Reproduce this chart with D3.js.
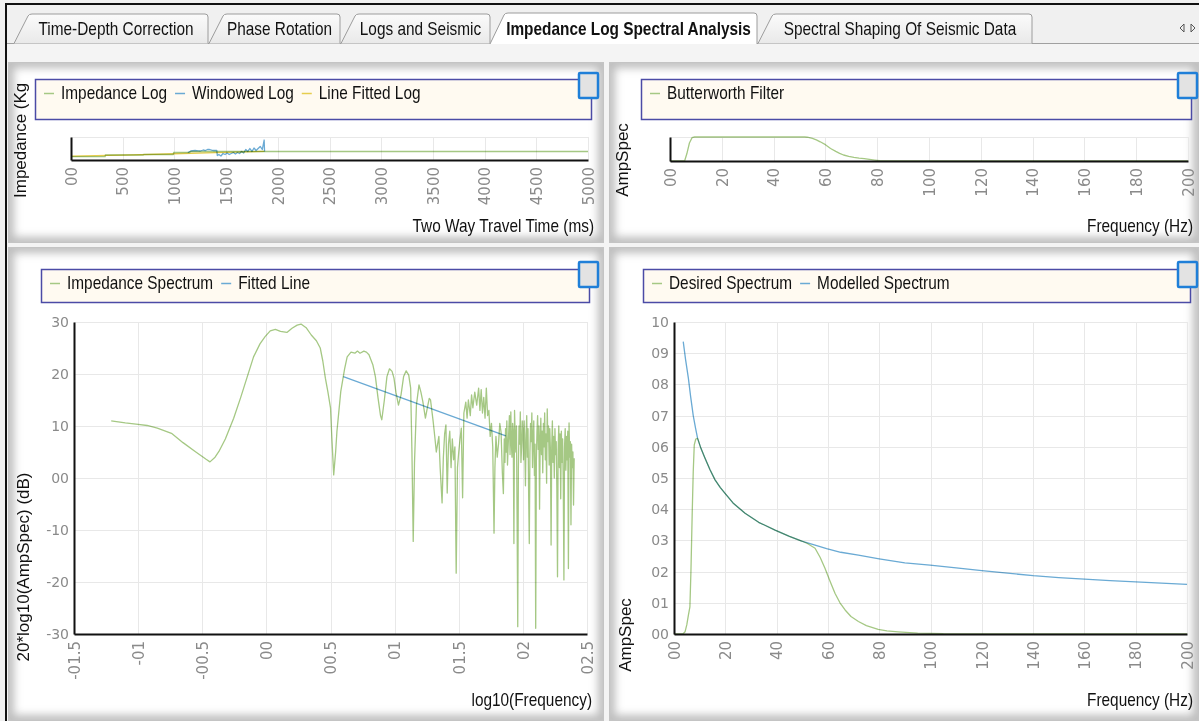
<!DOCTYPE html>
<html><head><meta charset="utf-8">
<script src="https://cdn.jsdelivr.net/npm/d3@7"></script>
<style>
body{margin:0;background:#fff;overflow:hidden}
svg{display:block}
</style></head><body>
<svg id="c" width="1199" height="721"></svg>
<script>
// ---------- tabs ----------
const tabLabels = ["Time-Depth Correction", "Phase Rotation", "Logs and Seismic",
  "Impedance Log Spectral Analysis", "Spectral Shaping Of Seismic Data"];
const activeTab = 3;

// ---------- impedance log vs two way time ----------
const timeTicks = [0, 500, 1000, 1500, 2000, 2500, 3000, 3500, 4000, 4500, 5000];
const timeTickLabels = ["00", "500", "1000", "1500", "2000", "2500", "3000", "3500", "4000", "4500", "5000"];
const impTime  = [0, 330, 332, 700, 702, 990, 992, 1150, 1152, 1870, 1872, 5000];
const impValue = [5200, 5200, 5740, 5740, 5910, 5910, 6610, 6610, 6960, 6960, 6960, 6960];
const winTime  = [1130, 1160, 1200, 1230, 1250, 1280, 1300, 1320, 1340, 1360, 1380, 1410, 1415, 1430, 1450,
  1470, 1490, 1510, 1530, 1550, 1570, 1590, 1610, 1630, 1650, 1670, 1690, 1710, 1730, 1750, 1770,
  1790, 1810, 1830, 1850, 1860, 1868, 1872];
const winValue = [6600, 7130, 7300, 7150, 7130, 7480, 7300, 7650, 7650, 7400, 7300, 7300, 5550, 5900, 5380,
  6260, 5900, 6430, 5900, 6260, 6600, 6080, 6600, 6260, 6960, 6430, 7650, 6960, 8000, 6960, 8170,
  7300, 8000, 8700, 7650, 9400, 10950, 6960];
const fitTime  = [0, 600, 1000, 1400, 1870];
const fitValue = [5350, 5800, 6180, 6550, 6980];

// ---------- butterworth filter ----------
const freqTicks = [0, 20, 40, 60, 80, 100, 120, 140, 160, 180, 200];
const freqTickLabels = ["00", "20", "40", "60", "80", "100", "120", "140", "160", "180", "200"];
const bwFreq = [0, 5, 5.7, 6.5, 7.5, 8.5, 9.5, 52, 53, 55, 56.5, 58, 60, 62, 64, 65.5, 67, 69, 71, 73, 75, 77, 79, 81, 83, 200];
const bwAmp  = [0, 0, 0.02, 0.3, 0.75, 0.97, 1, 1, 0.99, 0.94, 0.88, 0.8, 0.68, 0.52, 0.4, 0.32, 0.25, 0.19, 0.15, 0.12, 0.1, 0.07, 0.04, 0.01, 0, 0];

// ---------- impedance spectrum (dB vs log10 f) ----------
const logFreqTicks = [-1.5, -1, -0.5, 0, 0.5, 1, 1.5, 2, 2.5];
const logFreqTickLabels = ["-01.5", "-01", "-00.5", "00", "00.5", "01", "01.5", "02", "02.5"];
const dbTicks = [-30, -20, -10, 0, 10, 20, 30];
const dbTickLabels = ["-30", "-20", "-10", "00", "10", "20", "30"];
const specLogF = [
  -1.21, -1.1, -1.0, -0.93, -0.85, -0.74, -0.65, -0.55, -0.47, -0.44, -0.40, -0.37, -0.32, -0.255, -0.2, -0.15,
  -0.10, -0.05, -0.01, 0.03, 0.07, 0.11, 0.16, 0.2, 0.24, 0.27, 0.31, 0.35, 0.39, 0.42, 0.44, 0.46, 0.48, 0.50,
  0.51, 0.525, 0.54, 0.55, 0.58, 0.61, 0.63, 0.66, 0.69, 0.71, 0.73, 0.76, 0.78, 0.80, 0.83, 0.85, 0.87, 0.89,
  0.90, 0.92, 0.94, 0.96, 0.98, 0.995, 1.01, 1.03, 1.05, 1.07, 1.09, 1.11, 1.125, 1.135, 1.145, 1.155, 1.17,
  1.19, 1.205, 1.22, 1.24, 1.255, 1.27, 1.28, 1.30, 1.315, 1.325, 1.335, 1.345, 1.355, 1.37, 1.38, 1.39, 1.40,
  1.41, 1.42, 1.43, 1.44, 1.45, 1.46, 1.47, 1.48, 1.49, 1.50, 1.51, 1.52, 1.53, 1.54, 1.555, 1.565, 1.575,
  1.59, 1.60, 1.61, 1.625, 1.64, 1.655, 1.665, 1.675, 1.685, 1.695, 1.705, 1.715, 1.725, 1.735, 1.745, 1.755,
  1.765, 1.775, 1.782, 1.79, 1.80, 1.81, 1.82, 1.83, 1.84, 1.848, 1.855, 1.860, 1.865, 1.870, 1.875, 1.880,
  1.885, 1.890, 1.895, 1.900, 1.906, 1.910, 1.915, 1.920, 1.925, 1.930, 1.935, 1.940, 1.945, 1.950, 1.955,
  1.960, 1.965, 1.970, 1.975, 1.980, 1.985, 1.990, 1.995, 2.000, 2.005, 2.010, 2.015, 2.020, 2.025, 2.030,
  2.035, 2.040, 2.045, 2.050, 2.055, 2.060, 2.065, 2.070, 2.075, 2.080, 2.085, 2.090, 2.095, 2.100, 2.105,
  2.110, 2.115, 2.120, 2.125, 2.130, 2.135, 2.140, 2.145, 2.150, 2.155, 2.160, 2.165, 2.170, 2.175, 2.180,
  2.185, 2.190, 2.195, 2.200, 2.205, 2.210, 2.215, 2.220, 2.225, 2.230, 2.235, 2.240, 2.245, 2.250, 2.255,
  2.260, 2.265, 2.270, 2.275, 2.280, 2.285, 2.290, 2.295, 2.300, 2.305, 2.310, 2.315, 2.320, 2.325, 2.330,
  2.335, 2.340, 2.345, 2.350, 2.355, 2.360, 2.365, 2.370, 2.375, 2.380, 2.385, 2.390, 2.395, 2.400];
const specDb = [
  11.0, 10.6, 10.3, 10.1, 9.6, 8.6, 6.8, 5.0, 3.6, 3.1, 4.0, 5.1, 7.5, 11.5, 15.5, 19.4,
  23.3, 25.8, 27.2, 28.3, 28.6, 28.2, 28.0, 28.8, 29.4, 29.6, 28.9, 27.5, 26.4, 25.0, 22.5, 19.2, 16.5, 13.5,
  8.0, 0.6, 5.0, 8.9, 16.6, 21.0, 23.3, 24.2, 24.0, 24.4, 24.0, 24.4, 24.2, 23.7, 21.8, 19.5, 15.5, 12.0,
  11.2, 15.0, 19.5, 21.0, 20.5, 19.2, 16.5, 14.0, 16.0, 19.5, 20.6, 19.8, 17.3, 5.0, -12.2, 3.0, 14.0,
  17.9, 16.5, 14.7, 11.5, 13.5, 15.3, 15.0, 11.0, 7.5, 5.0, 6.5, 8.0, 2.0, -4.8, 4.0, 8.5, 10.2,
  -2.9, 6.5, 9.0, 2.0, 7.5, 3.5, 6.0, -18.3, 2.0, 5.0, 7.5, 9.6, -3.8, 12.5, 14.6, 11.5, 15.0,
  12.0, 16.0, 13.5, 16.5, 14.0, 17.3, 13.0, 17.0, 12.5, 15.5, 11.5, 17.3, 12.0, 13.0, 8.0, 10.5,
  6.0, -10.6, 2.0, 8.0, 4.0, 6.5, 10.5, 8.8, 1.0, -3.0, 7.5, 3.0, 9.5, 5.0, 11.0, 2.5,
  6.0, 9.0, 12.0, 4.5, 12.7, 7.0, 4.0, 10.5, 9.0, -12.6, 13.0, 8.0, 5.0, 10.0, -8.0,
  -28.6, 2.0, 10.0, 6.5, 12.7, 3.0, 6.0, 11.0, 9.0, 3.5, 11.0, 6.0, -1.5, 8.5, 12.0,
  4.0, 9.5, -3.0, -12.6, 5.0, 10.5, 7.0, 12.5, 2.0, 8.0, 11.0, 0.5, 6.5, -28.9, 3.0,
  9.0, 12.0, 5.5, 10.0, -6.0, 7.5, 11.5, 4.5, 9.0, 1.0, 10.5, 6.0, 12.5, 3.5, 8.5,
  -1.0, 13.3, 7.0, 10.0, 2.5, 9.5, 5.0, -12.9, 6.0, 11.0, 3.0, 8.0, 0.0, 9.5, 4.5,
  7.0, -2.0, -19.0, 5.5, 10.0, 2.0, 8.5, -4.0, 9.0, 3.0, 7.5, -1.0, -19.6, 6.0, 9.5,
  1.5, 8.0, 3.5, 9.0, -17.4, 10.6, 4.0, 7.0, -9.0, 6.5, 2.0, 5.0, -5.2, 3.8];
const fitLogF = [0.60, 1.867];
const fitDb   = [19.5, 8.1];

// ---------- desired / modelled spectra ----------
const ampTicks = [0, 0.1, 0.2, 0.3, 0.4, 0.5, 0.6, 0.7, 0.8, 0.9, 1.0];
const ampTickLabels = ["00", "01", "02", "03", "04", "05", "06", "07", "08", "09", "10"];
const desFreq = [0, 3.5, 4.3, 5, 5.6, 6.2, 6.6, 7.1, 7.5, 7.9, 8.5, 9.2, 10.5, 12.1, 14, 16, 18, 19.9, 23, 27.7,
  33, 39.4, 45, 49.8, 52, 55, 57, 58.9, 60.8, 62.8, 64.7, 66.7, 69, 71.9, 75, 79.6, 83, 87.4, 95, 105, 200];
const desAmp  = [0, 0, 0.007, 0.03, 0.06, 0.087, 0.2, 0.387, 0.52, 0.606, 0.625, 0.627, 0.595, 0.563, 0.527, 0.494,
  0.47, 0.451, 0.42, 0.387, 0.358, 0.333, 0.313, 0.298, 0.29, 0.275, 0.245, 0.21, 0.17, 0.13, 0.1, 0.077, 0.056,
  0.04, 0.027, 0.015, 0.01, 0.007, 0.003, 0.001, 0];
const modFreq = [3.6, 4.5, 5.6, 6.5, 7.5, 8.4, 9.2, 10.5, 12.1, 14, 16, 18, 19.9, 23, 27.7, 33, 39.4, 45, 49.8,
  55, 59.5, 65, 71.9, 80, 90, 99.8, 110, 120, 130, 140, 150, 160, 170, 180, 190, 200];
const modAmp  = [0.937, 0.88, 0.82, 0.76, 0.70, 0.66, 0.627, 0.595, 0.563, 0.527, 0.494, 0.47, 0.451, 0.42, 0.387,
  0.358, 0.333, 0.313, 0.298, 0.285, 0.274, 0.262, 0.253, 0.241, 0.228, 0.221, 0.212, 0.203, 0.195, 0.187,
  0.181, 0.176, 0.171, 0.167, 0.163, 0.159];

// ---------- styling ----------
const GREEN = "#a5c884", BLUE = "#6aaad4", YELLOW = "#e6cd4e";
const SANS = "'Liberation Sans',Arial,sans-serif";
const TICKFONT = "'DejaVu Sans',Verdana,sans-serif";
const NARROW_SCALE = 0.855;   // condensed UI face emulated by horizontal squeeze

const svg = d3.select("#c");
const defs = svg.append("defs");

// condensed text: a Liberation Sans run squeezed horizontally about its anchor point
function narrowText(parent, x, y, str, anchor, size, weight) {
  const g = parent.append("g").attr("transform", `translate(${x},${y}) scale(${NARROW_SCALE},1)`);
  const t = g.append("text").attr("text-anchor", anchor)
    .style("font-family", SANS).style("font-size", size + "px").style("font-weight", weight || "normal")
    .attr("fill", "#111").text(str);
  return t;
}

const tabGrad = defs.append("linearGradient").attr("id", "tabGrad").attr("x1", 0).attr("y1", 0).attr("x2", 0).attr("y2", 1);
tabGrad.append("stop").attr("offset", "0%").attr("stop-color", "#fbfbfb");
tabGrad.append("stop").attr("offset", "100%").attr("stop-color", "#e9e9e9");
defs.append("filter").attr("id", "blur").attr("x", "-10%").attr("y", "-10%").attr("width", "120%").attr("height", "120%")
  .append("feGaussianBlur").attr("stdDeviation", 4);

// window background
svg.append("rect").attr("width", 1199).attr("height", 721).attr("fill", "#f0f0f0");

// ---------- tab strip ----------
const tabEdges = [[14, 208], [209, 340], [341, 490], [490, 757], [758, 1032]];
const tabTop = 14, tabBot = 43, slant = 14;
const tabs = svg.append("g");
tabs.append("line").attr("x1", 6).attr("x2", 1199).attr("y1", tabBot + 0.5).attr("y2", tabBot + 0.5).attr("stroke", "#a0a0a0");
const order = d3.range(tabLabels.length).filter(i => i !== activeTab).concat([activeTab]);
order.forEach(i => {
  const [x0, x1] = tabEdges[i];
  const act = i === activeTab;
  const top = act ? tabTop - 1 : tabTop;
  const p = `M${x0},${tabBot + (act ? 1 : 0.5)} L${x0 + slant},${top + 2} Q${x0 + slant + 1},${top} ${x0 + slant + 4},${top}` +
    ` L${x1 - 3},${top} Q${x1},${top} ${x1},${top + 3} L${x1},${tabBot + (act ? 1 : 0.5)}`;
  tabs.append("path").attr("d", p).attr("fill", act ? "#ffffff" : "url(#tabGrad)").attr("stroke", "#9c9c9c").attr("stroke-width", 1);
  narrowText(tabs, (x0 + slant + x1) / 2 - 2, 35, tabLabels[i], "middle", 18, act ? "bold" : "normal");
});
// scroll arrows
tabs.append("path").attr("d", "M1184,24 L1180,28 L1184,32 Z").attr("fill", "none").attr("stroke", "#555");
tabs.append("path").attr("d", "M1191,24 L1195,28 L1191,32 Z").attr("fill", "none").attr("stroke", "#555");
// window frame
svg.append("line").attr("x1", 5).attr("x2", 1199).attr("y1", 4).attr("y2", 4).attr("stroke", "#111").attr("stroke-width", 2);
svg.append("line").attr("x1", 6).attr("x2", 6).attr("y1", 4).attr("y2", 721).attr("stroke", "#111").attr("stroke-width", 2);
svg.append("rect").attr("x", 7).attr("y", 44).attr("width", 1192).attr("height", 677).attr("fill", "#f4f4f4");

// ---------- panels ----------
function panel(id, x, y, w, h) {
  const cp = defs.append("clipPath").attr("id", id);
  cp.append("rect").attr("x", x).attr("y", y).attr("width", w).attr("height", h);
  const g = svg.append("g").attr("clip-path", `url(#${id})`);
  g.append("rect").attr("x", x).attr("y", y).attr("width", w).attr("height", h).attr("fill", "#fff");
  g.append("rect").attr("x", x).attr("y", y).attr("width", w).attr("height", h).attr("fill", "none")
    .attr("stroke", "#bdbdbd").attr("stroke-width", 12).attr("filter", "url(#blur)");
  g.append("rect").attr("x", x + 0.5).attr("y", y + 0.5).attr("width", w - 1).attr("height", h - 1).attr("fill", "none")
    .attr("stroke", "#c4c4c4");
}
panel("pTL", 8, 62, 596, 181);
panel("pTR", 609, 62, 590, 181);
panel("pBL", 8, 247, 596, 474);
panel("pBR", 609, 247, 590, 474);

// ---------- chart builder ----------
function chart(o) {
  const g = svg.append("g");
  const b = o.box;
  const x = d3.scaleLinear().domain(o.xDomain).range([b.x0, b.x1]);
  const y = d3.scaleLinear().domain(o.yDomain).range([b.y1, b.y0]);

  // grid
  const grid = g.append("g").attr("stroke", "#e8e8e8").attr("stroke-width", 1);
  grid.selectAll("line.v").data(o.xTicks).join("line").attr("class", "v")
    .attr("x1", d => Math.round(x(d)) + 0.5).attr("x2", d => Math.round(x(d)) + 0.5)
    .attr("y1", b.y0).attr("y2", b.y1);
  grid.selectAll("line.h").data(o.yTicks || [o.yDomain[1]]).join("line").attr("class", "h")
    .attr("x1", b.x0).attr("x2", b.x1)
    .attr("y1", d => Math.round(y(d)) + 0.5).attr("y2", d => Math.round(y(d)) + 0.5);

  // series
  const line = d3.line().x(d => x(d[0])).y(d => y(d[1]));
  o.series.forEach(s => {
    g.append("path").datum(d3.zip(s.x, s.y)).attr("d", line).attr("fill", "none")
      .attr("stroke", s.color).attr("stroke-width", 1.3).attr("stroke-linejoin", "round")
      .style("mix-blend-mode", "multiply");
  });

  // bottom axis
  const xa = g.append("g").attr("transform", `translate(0,${b.y1})`)
    .call(d3.axisBottom(x).tickValues(o.xTicks).tickFormat((d, i) => o.xLabels[i]).tickSize(0).tickSizeOuter(0));
  xa.select(".domain").attr("stroke", "#111").attr("stroke-width", 2);
  xa.selectAll(".tick text").attr("transform", "rotate(-90)").attr("text-anchor", "end")
    .attr("x", -7).attr("y", 0).attr("dy", "0.35em").attr("fill", "#8a8a8a")
    .style("font-family", TICKFONT).style("font-size", "15px");

  // left axis
  const ya = g.append("g").attr("transform", `translate(${b.x0},0)`)
    .call(d3.axisLeft(y).tickValues(o.yTicks || []).tickFormat((d, i) => o.yLabels ? o.yLabels[i] : "").tickSize(0).tickSizeOuter(0));
  ya.select(".domain").attr("stroke", "#111").attr("stroke-width", 2);
  ya.selectAll(".tick text").attr("x", -5).attr("fill", "#8a8a8a")
    .style("font-family", TICKFONT).style("font-size", "14px");

  // axis titles
  narrowText(g, o.xTitle.x, o.xTitle.y, o.xTitle.text, "end", 18);
  const holder = g.append("g");
  if (o.yTitle.clip) holder.attr("clip-path", `url(#${o.yTitle.clip})`);
  holder.append("text").attr("transform", `translate(${o.yTitle.x},${o.yTitle.y}) rotate(-90)`)
    .attr("text-anchor", o.yTitle.anchor).attr("dy", "0.35em")
    .style("font-family", SANS).style("font-size", "17px").attr("fill", "#111").text(o.yTitle.text);

  // legend: entries sit along the top row of the box
  const L = o.legend;
  g.append("rect").attr("x", L.x + 0.5).attr("y", L.y + 0.5).attr("width", L.w).attr("height", L.h)
    .attr("fill", "#fffaf1").attr("stroke", "#4b4ba6").attr("stroke-width", 1.5);
  let cx = L.x + 9;
  const cy = L.y + 14;
  o.series.forEach(s => {
    g.append("line").attr("x1", cx).attr("x2", cx + 10).attr("y1", cy + 0.5).attr("y2", cy + 0.5)
      .attr("stroke", s.color).attr("stroke-width", 1.5);
    const t = narrowText(g, cx + 17, L.y + 19.5, s.label, "start", 18);
    cx += 17 + t.node().getComputedTextLength() * NARROW_SCALE + 8;
  });

  // corner button
  const B = o.button;
  g.append("rect").attr("x", B.x).attr("y", B.y).attr("width", 19).attr("height", 25).attr("rx", 1)
    .attr("fill", "#e3e3e3").attr("stroke", "#1f7fd8").attr("stroke-width", 2.5);
}

defs.append("clipPath").attr("id", "ytClip").append("rect").attr("x", 8).attr("y", 84).attr("width", 40).attr("height", 156);

chart({
  box: {x0: 71, x1: 588, y0: 137, y1: 160},
  xDomain: [0, 5000], yDomain: [4000, 12000],
  xTicks: timeTicks, xLabels: timeTickLabels,
  series: [
    {label: "Impedance Log", color: GREEN, x: impTime, y: impValue},
    {label: "Windowed Log", color: BLUE, x: winTime, y: winValue},
    {label: "Line Fitted Log", color: YELLOW, x: fitTime, y: fitValue}
  ],
  xTitle: {text: "Two Way Travel Time (ms)", x: 594, y: 232},
  yTitle: {text: "Impedance (Kg/m2s)", x: 20, y: 198, anchor: "start", clip: "ytClip"},
  legend: {x: 35, y: 79, w: 556, h: 40},
  button: {x: 579, y: 73}
});

chart({
  box: {x0: 670, x1: 1188, y0: 137, y1: 161},
  xDomain: [0, 200], yDomain: [0, 1],
  xTicks: freqTicks, xLabels: freqTickLabels,
  series: [{label: "Butterworth Filter", color: GREEN, x: bwFreq, y: bwAmp}],
  xTitle: {text: "Frequency (Hz)", x: 1193, y: 232},
  yTitle: {text: "AmpSpec", x: 622, y: 160, anchor: "middle"},
  legend: {x: 641, y: 79, w: 550, h: 40},
  button: {x: 1178, y: 73}
});

chart({
  box: {x0: 74, x1: 587, y0: 322, y1: 634},
  xDomain: [-1.5, 2.5], yDomain: [-30, 30],
  xTicks: logFreqTicks, xLabels: logFreqTickLabels,
  yTicks: dbTicks, yLabels: dbTickLabels,
  series: [
    {label: "Impedance Spectrum", color: GREEN, x: specLogF, y: specDb},
    {label: "Fitted Line", color: BLUE, x: fitLogF, y: fitDb}
  ],
  xTitle: {text: "log10(Frequency)", x: 592, y: 706},
  yTitle: {text: "20*log10(AmpSpec) (dB)", x: 23, y: 567, anchor: "middle"},
  legend: {x: 41, y: 269, w: 548, h: 33},
  button: {x: 579, y: 262}
});

chart({
  box: {x0: 674, x1: 1187, y0: 322, y1: 634},
  xDomain: [0, 200], yDomain: [0, 1],
  xTicks: freqTicks, xLabels: freqTickLabels,
  yTicks: ampTicks, yLabels: ampTickLabels,
  series: [
    {label: "Desired Spectrum", color: GREEN, x: desFreq, y: desAmp},
    {label: "Modelled Spectrum", color: BLUE, x: modFreq, y: modAmp}
  ],
  xTitle: {text: "Frequency (Hz)", x: 1193, y: 706},
  yTitle: {text: "AmpSpec", x: 625, y: 635, anchor: "middle"},
  legend: {x: 643, y: 269, w: 547, h: 33},
  button: {x: 1178, y: 262}
});
</script>
</body></html>
